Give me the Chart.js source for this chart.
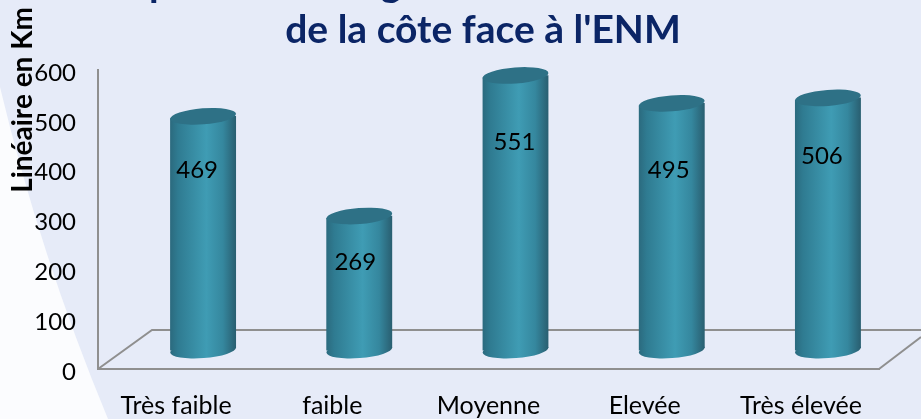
<!DOCTYPE html>
<html>
<head>
<meta charset="utf-8">
<title>Linéaire de la côte</title>
<script src="https://cdn.jsdelivr.net/npm/chart.js@4"></script>
<style>
  html, body { margin: 0; padding: 0; background: #e6ebf8; }
  canvas { display: block; }
</style>
</head>
<body>
<canvas id="chart" width="921" height="419"></canvas>
<script>
const categories = ['Très faible', 'faible', 'Moyenne', 'Elevée', 'Très élevée']
const lineaire = [469, 269, 551, 495, 506]
const titleLine = "de la côte face à l'ENM"
const axisTitle = 'Linéaire en Km'

// the bars sit in the middle of the 3D floor, so they get their own hidden axis
const depthX = 27
const depthUnits = 38
const labelNudge = [[-6, 54], [-4, 46], [-1, 67], [-3, 67], [-6, 58]]
// only the tails of the first title line are left in the crop
const cutOffLetters = [['p', 160], ['g', 391]]

function bodyGradient(ctx, center) {
  const g = ctx.createLinearGradient(center - 33, 0, center + 33, 0)
  g.addColorStop(0, '#2b6a7e')
  g.addColorStop(0.12, '#2f7b91')
  g.addColorStop(0.55, '#3f9cb4')
  g.addColorStop(0.8, '#35879e')
  g.addColorStop(1, '#295e70')
  return g
}

const scene = {
  id: 'scene',
  beforeDraw(chart) {
    const { ctx, width, height, chartArea, scales } = chart
    ctx.save()
    ctx.fillStyle = '#e6ebf8'
    ctx.fillRect(0, 0, width, height)
    // pale wedge on the left of the slide
    ctx.fillStyle = '#fbfcfe'
    ctx.beginPath()
    ctx.moveTo(0, 87)
    ctx.quadraticCurveTo(40, 255, 108, height)
    ctx.lineTo(0, height)
    ctx.closePath()
    ctx.fill()
    // floor
    const y0 = scales.y.getPixelForValue(0)
    ctx.strokeStyle = '#8f8f8f'
    ctx.lineWidth = 2
    ctx.beginPath()
    ctx.moveTo(chartArea.left, y0)
    ctx.lineTo(chartArea.left + 54, y0 - 39)
    ctx.lineTo(width, y0 - 39)
    ctx.moveTo(chartArea.right, y0)
    ctx.lineTo(width, y0 - 32)
    ctx.stroke()
    ctx.restore()
  },
  beforeDatasetsDraw(chart) {
    const { ctx } = chart
    ctx.save()
    ctx.translate(depthX, 0)
    ctx.beginPath()
    chart.getDatasetMeta(0).data.forEach(bar => {
      const l = bar.x - 33
      const r = bar.x + 33
      ctx.moveTo(l, bar.y + 2)
      ctx.lineTo(r, bar.y - 3)
      ctx.lineTo(r, bar.base - 2)
      ctx.lineTo(l, bar.base + 2)
      ctx.closePath()
    })
    ctx.clip()
  },
  afterDatasetsDraw(chart) {
    const { ctx } = chart
    ctx.restore()
    ctx.save()
    ctx.translate(depthX, 0)
    const tilt = -4.4 * Math.PI / 180
    chart.getDatasetMeta(0).data.forEach(bar => {
      // round bottom then the darker lid
      ctx.fillStyle = bodyGradient(ctx, bar.x)
      ctx.beginPath()
      ctx.ellipse(bar.x, bar.base, 33, 8, tilt, 0, Math.PI * 2)
      ctx.fill()
      ctx.fillStyle = '#2e7186'
      ctx.beginPath()
      ctx.ellipse(bar.x, bar.y, 33, 8, tilt, 0, Math.PI * 2)
      ctx.fill()
    })
    ctx.restore()
  },
  afterDraw(chart) {
    const { ctx } = chart
    ctx.save()
    ctx.textAlign = 'center'
    ctx.textBaseline = 'middle'
    ctx.fillStyle = '#000'
    ctx.font = '24px Lato'
    chart.getDatasetMeta(0).data.forEach((bar, i) => {
      const [dx, dy] = labelNudge[i]
      ctx.fillText(lineaire[i], bar.x + depthX + dx, bar.y + dy)
    })
    ctx.fillStyle = '#0b2566'
    ctx.font = 'bold 39px Lato'
    ctx.fillText(titleLine, 483, 30)
    ctx.textBaseline = 'alphabetic'
    cutOffLetters.forEach(([letter, x]) => ctx.fillText(letter, x, -3))
    // axis title runs above the axis, so it is placed by hand
    ctx.fillStyle = '#000'
    ctx.font = 'bold 28px Lato'
    ctx.translate(23, 100)
    ctx.rotate(-Math.PI / 2)
    ctx.textBaseline = 'middle'
    ctx.fillText(axisTitle, 0, 0)
    ctx.restore()
  }
}

new Chart(document.getElementById('chart'), {
  type: 'bar',
  data: {
    labels: categories,
    datasets: [
      {
        label: axisTitle,
        data: lineaire,
        yAxisID: 'depth',
        barThickness: 66,
        backgroundColor: c => bodyGradient(c.chart.ctx, c.chart.scales.x.getPixelForTick(c.dataIndex))
      }
    ]
  },
  options: {
    responsive: false,
    animation: false,
    layout: { padding: { top: 70, right: 42 } },
    plugins: {
      legend: { display: false },
      tooltip: { enabled: false }
    },
    scales: {
      x: {
        grid: { display: false },
        border: { color: '#8f8f8f', width: 2 },
        ticks: { color: '#000', font: { family: 'Lato', size: 25 }, padding: 14, maxRotation: 0 },
        afterFit: s => { s.height = 50 }
      },
      y: {
        min: 0,
        max: 600,
        grid: { display: false },
        border: { color: '#8f8f8f', width: 2 },
        ticks: { stepSize: 100, color: '#000', font: { family: 'Lato', size: 24 }, padding: 14, labelOffset: 3 },
        afterFit: s => { s.width = 98 }
      },
      depth: {
        display: false,
        min: -depthUnits,
        max: 600 - depthUnits
      }
    }
  },
  plugins: [scene]
})
</script>
</body>
</html>
